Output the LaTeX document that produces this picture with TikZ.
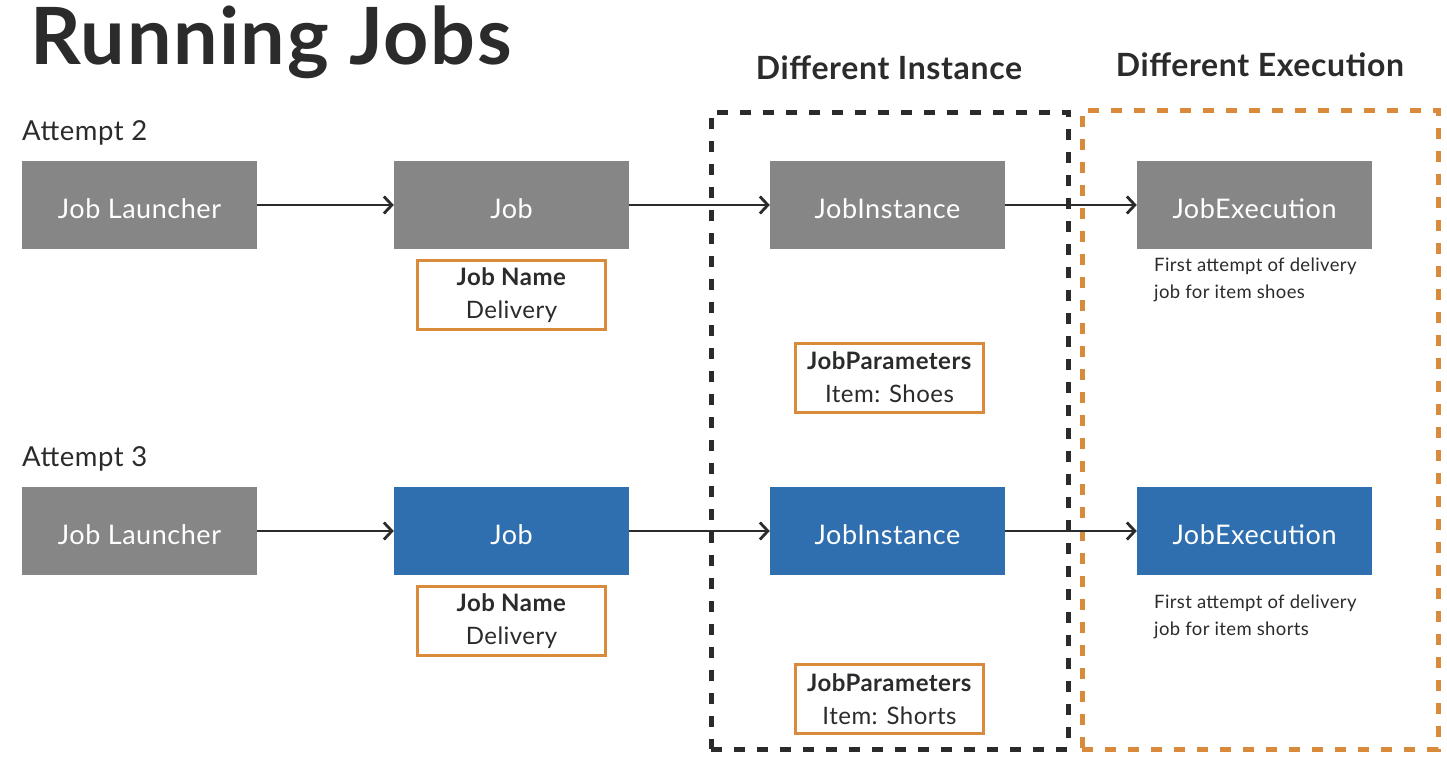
\documentclass[tikz,border=0pt]{standalone}
\usepackage{fontspec}
\setmainfont{Lato}[LetterSpace=2]
\usetikzlibrary{arrows.meta}
\definecolor{boxgray}{HTML}{868686}
\definecolor{boxblue}{HTML}{2F6FAF}
\definecolor{boxorange}{HTML}{D98A3A}
\definecolor{ink}{HTML}{2B2B2B}
\begin{document}
\begin{tikzpicture}[x=1pt,y=-1pt,
  comp/.style={minimum width=235pt,minimum height=88pt,inner sep=0pt,text height=29pt,text depth=2pt,text=white,font=\fontsize{27}{32}\selectfont},
  graycomp/.style={comp,fill=boxgray},
  bluecomp/.style={comp,fill=boxblue},
  infobox/.style={draw=boxorange,line width=3pt,minimum width=188pt,minimum height=69pt,inner sep=0pt,align=center,text=ink,font=\fontsize{24}{33}\selectfont,fill=white},
  flow/.style={draw=ink,line width=2.4pt,-{Straight Barb[length=8pt,width=17pt,line width=2.8pt]}},
  note/.style={anchor=north west,align=left,text=ink,font=\fontsize{18.5}{27}\selectfont,inner sep=0pt},
  attempt/.style={anchor=west,text=ink,font=\fontsize{27.5}{32}\selectfont,inner sep=0pt},
  heading/.style={text=ink,font=\bfseries\fontsize{32}{36}\selectfont,inner sep=0pt}
]
\useasboundingbox (0,0) rectangle (1447,758);
\fill[white] (0,0) rectangle (1447,758);
% title
\node[anchor=base west,inner sep=0pt,text=ink,font=\bfseries\fontsize{79}{90}\selectfont] (title) at (30,64) {Running Jobs};
\node[heading] (hinst) at (889,68) {Different Instance};
\node[heading] (hexec) at (1260,65) {Different Execution};
% dashed regions
\node[draw=ink,line width=5pt,dash pattern=on 11pt off 12pt,minimum width=357pt,minimum height=637pt,inner sep=0pt] (instbox) at (889.5,430.5) {};
\node[draw=boxorange,line width=5pt,dash pattern=on 11pt off 12pt,minimum width=356pt,minimum height=639pt,inner sep=0pt] (execbox) at (1260,429.5) {};
% row labels
\node[attempt] (att2) at (22,133) {Attempt 2};
\node[attempt] (att3) at (22,459) {Attempt 3};
% row 1
\node[graycomp] (l1) at (139.5,205) {Job Launcher};
\node[graycomp] (j1) at (511.5,205) {Job};
\node[graycomp] (i1) at (887.5,205) {JobInstance};
\node[graycomp] (e1) at (1254.5,205) {JobExecution};
% row 2
\node[graycomp] (l2) at (139.5,531) {Job Launcher};
\node[bluecomp] (j2) at (511.5,531) {Job};
\node[bluecomp] (i2) at (887.5,531) {JobInstance};
\node[bluecomp] (e2) at (1254.5,531) {JobExecution};
% arrows
\draw[flow] (l1) -- (j1);
\draw[flow] (j1) -- (i1);
\draw[flow] (i1) -- (e1);
\draw[flow] (l2) -- (j2);
\draw[flow] (j2) -- (i2);
\draw[flow] (i2) -- (e2);
% info boxes
\node[infobox] (n1) at (511.5,295) {\textbf{Job Name}\\Delivery};
\node[infobox] (p1) at (889.5,377.5) {\textbf{JobParameters}\\Item: Shoes};
\node[infobox] (n2) at (511.5,621) {\textbf{Job Name}\\Delivery};
\node[infobox] (p2) at (889.5,699) {\textbf{JobParameters}\\Item: Shorts};
% notes
\node[note] (d1) at (1154,258) {First attempt of delivery\\job for item shoes};
\node[note] (d2) at (1154,595) {First attempt of delivery\\job for item shorts};
\end{tikzpicture}
\end{document}
